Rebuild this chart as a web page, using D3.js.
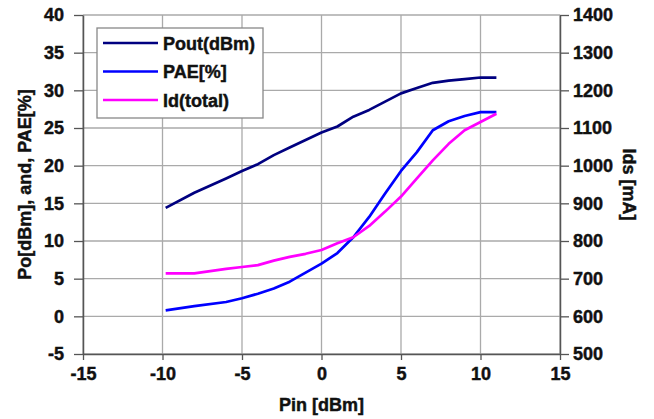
<!DOCTYPE html>
<html>
<head>
<meta charset="utf-8">
<script src="https://cdn.jsdelivr.net/npm/d3@7"></script>
<style>
  body { margin: 0; background: #fff; }
  svg text { font-family: "Liberation Sans", Arial, sans-serif; font-weight: bold; fill: #111; stroke: #111; stroke-width: 0.45px; }
</style>
</head>
<body>
<svg width="654" height="419"></svg>
<script>
// Pin sweep [dBm]
var pin  = [-9.8, -8, -6, -5, -4, -3, -2, -1, 0, 1, 2, 3, 4, 5, 6, 7, 8, 9, 10, 11];
var pout = [14.4, 16.4, 18.3, 19.3, 20.2, 21.4, 22.4, 23.4, 24.4, 25.2, 26.5, 27.4, 28.5, 29.6, 30.3, 31.0, 31.3, 31.5, 31.7, 31.7];
var pae  = [0.8, 1.35, 1.9, 2.4, 3.0, 3.7, 4.6, 5.8, 7.0, 8.4, 10.5, 13.2, 16.3, 19.3, 21.8, 24.7, 25.9, 26.6, 27.1, 27.1];
var idTotal = [714, 714, 726, 731, 736, 748, 758, 766, 776, 794, 810, 840, 878, 918, 966, 1014, 1058, 1094, 1116, 1138];

var xTicks = [-15, -10, -5, 0, 5, 10, 15];
var yLeftTicks = [-5, 0, 5, 10, 15, 20, 25, 30, 35, 40];
var yRightTicks = [500, 600, 700, 800, 900, 1000, 1100, 1200, 1300, 1400];

var series = [
  { name: "Pout(dBm)", color: "#000080", values: pout, axis: "left" },
  { name: "PAE[%]", color: "#0000ff", values: pae, axis: "left" },
  { name: "Id(total)", color: "#ff00ff", values: idTotal, axis: "right" }
];

var svg = d3.select("svg"),
    margin = { top: 15, right: 94, bottom: 65, left: 83 },
    width = +svg.attr("width") - margin.left - margin.right,
    height = +svg.attr("height") - margin.top - margin.bottom,
    g = svg.append("g").attr("transform", "translate(" + margin.left + "," + margin.top + ")");

var x = d3.scaleLinear().domain([-15, 15]).range([0, width]);
var yL = d3.scaleLinear().domain([-5, 40]).range([height, 0]);
var yR = d3.scaleLinear().domain([500, 1400]).range([height, 0]);

var fmt = function(d) { return String(d); };

// grid
g.append("g").selectAll("line").data(xTicks).enter().append("line")
  .attr("x1", d => x(d)).attr("x2", d => x(d))
  .attr("y1", 0).attr("y2", height)
  .attr("stroke", "#aaa").attr("stroke-width", 1.3);
g.append("g").selectAll("line").data(yLeftTicks).enter().append("line")
  .attr("x1", 0).attr("x2", width)
  .attr("y1", d => yL(d)).attr("y2", d => yL(d))
  .attr("stroke", "#aaa").attr("stroke-width", 1.3);

// axes
function styleAxis(sel) {
  sel.select(".domain").attr("stroke", "#555").attr("stroke-width", 1.5);
  sel.selectAll(".tick line").attr("stroke", "#555").attr("stroke-width", 1.3);
  sel.selectAll(".tick text").style("font-size", "18px").attr("fill", "#111");
}

g.append("g")
  .attr("transform", "translate(0," + height + ")")
  .call(d3.axisBottom(x).tickValues(xTicks).tickFormat(fmt).tickSize(6).tickSizeOuter(0).tickPadding(7))
  .call(styleAxis);

g.append("g")
  .call(d3.axisLeft(yL).tickValues(yLeftTicks).tickFormat(fmt).tickSize(9).tickSizeOuter(0).tickPadding(10))
  .call(styleAxis);

g.append("g")
  .attr("transform", "translate(" + width + ",0)")
  .call(d3.axisRight(yR).tickValues(yRightTicks).tickFormat(fmt).tickSize(9).tickSizeOuter(0).tickPadding(4))
  .call(styleAxis);

// lines
series.forEach(function(s) {
  var yy = s.axis === "left" ? yL : yR;
  var line = d3.line()
    .x(function(d, i) { return x(pin[i]); })
    .y(function(d) { return yy(d); });
  g.append("path")
    .datum(s.values)
    .attr("fill", "none")
    .attr("stroke", s.color)
    .attr("stroke-width", 2.7)
    .attr("stroke-linejoin", "round")
    .attr("d", line);
});

// legend
var legend = g.append("g").attr("transform", "translate(14,13)");
legend.append("rect")
  .attr("width", 166).attr("height", 90)
  .attr("fill", "#fff").attr("stroke", "#888").attr("stroke-width", 1.3);
series.forEach(function(s, i) {
  var row = legend.append("g").attr("transform", "translate(0," + (15 + i * 28.5) + ")");
  row.append("line").attr("x1", 6).attr("x2", 61).attr("y1", 0).attr("y2", 0)
    .attr("stroke", s.color).attr("stroke-width", 2.7);
  row.append("text").attr("x", 66).attr("y", 6.5)
    .style("font-size", "18px").text(s.name);
});

// axis titles
svg.append("text")
  .attr("transform", "translate(31," + (margin.top + height / 2) + ") rotate(-90)")
  .attr("text-anchor", "middle")
  .style("font-size", "18px")
  .text("Po[dBm], and, PAE[%]");

svg.append("text")
  .attr("transform", "translate(623," + (margin.top + height / 2) + ") rotate(90)")
  .attr("text-anchor", "middle")
  .style("font-size", "18px")
  .text("Ids [mA]");

svg.append("text")
  .attr("x", margin.left + x(0))
  .attr("y", 411)
  .attr("text-anchor", "middle")
  .style("font-size", "18px")
  .text("Pin [dBm]");
</script>
</body>
</html>
